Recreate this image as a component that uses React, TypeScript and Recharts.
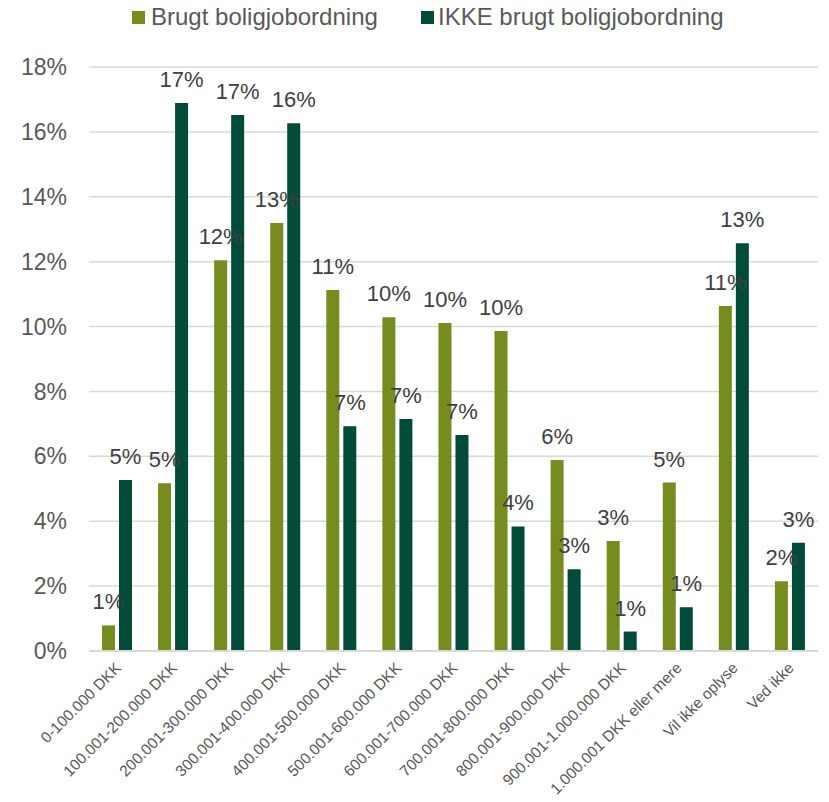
import React from 'react';
import { BarChart, Bar, XAxis, YAxis, CartesianGrid, LabelList, Legend } from 'recharts';

const categories = [
  '0-100.000 DKK',
  '100.001-200.000 DKK',
  '200.001-300.000 DKK',
  '300.001-400.000 DKK',
  '400.001-500.000 DKK',
  '500.001-600.000 DKK',
  '600.001-700.000 DKK',
  '700.001-800.000 DKK',
  '800.001-900.000 DKK',
  '900.001-1.000.000 DKK',
  '1.000.001 DKK eller mere',
  'Vil ikke oplyse',
  'Ved ikke',
];

const brugt = [0.79, 5.17, 12.04, 13.19, 11.13, 10.29, 10.11, 9.86, 5.89, 3.39, 5.19, 10.63, 2.15];
const ikkeBrugt = [5.27, 16.89, 16.52, 16.27, 6.93, 7.15, 6.66, 3.84, 2.52, 0.6, 1.35, 12.57, 3.34];

const yTicks = [0, 2, 4, 6, 8, 10, 12, 14, 16, 18];

const seriesNames = ['Brugt boligjobordning', 'IKKE brugt boligjobordning'];
const seriesColors = ['#778c1f', '#004b3a'];

const data = categories.map((c, i) => ({ name: c, brugt: brugt[i], ikke: ikkeBrugt[i] }));

const FONT = '"Liberation Sans", Arial, sans-serif';

const XTick = (props: any) => {
  const { x, y, payload } = props;
  const px = x + 5;
  const py = y + 18;
  return (
    <text
      x={px}
      y={py}
      transform={`rotate(-45, ${px}, ${py})`}
      textAnchor="end"
      fill="#595959"
      fontSize={15.5}
      fontFamily={FONT}
    >
      {payload.value}
    </text>
  );
};

const LegendContent = () => (
  <div style={{ position: 'relative', height: 67, width: 829, fontFamily: FONT }}>
    {seriesNames.map((n, i) => (
      <div
        key={n}
        style={{
          position: 'absolute',
          left: i === 0 ? 132 : 421,
          top: 3,
          display: 'flex',
          alignItems: 'center',
          fontSize: 24,
          color: '#595959',
          whiteSpace: 'nowrap',
        }}
      >
        <span style={{ display: 'inline-block', width: 13, height: 13, background: seriesColors[i], marginRight: i === 0 ? 6 : 4 }} />
        <span>{n}</span>
      </div>
    ))}
  </div>
);

const fmt = (v: any) => `${Math.round(Number(v))}%`;

export default function App() {
  return (
    <div style={{ position: 'absolute', left: 0, top: 0, width: 829, height: 802, background: '#fff' }}>
      <BarChart
        width={829}
        height={802}
        data={data}
        margin={{ top: 0, right: 11, bottom: 0, left: 0 }}
        barSize={13}
        barGap={4}
      >
        <Legend verticalAlign="top" align="left" content={<LegendContent />} wrapperStyle={{ left: 0, top: 0 }} />
        <CartesianGrid vertical={false} stroke="#d9d9d9" strokeWidth={1.5} />
        <XAxis
          dataKey="name"
          interval={0}
          tickLine={false}
          tickSize={0}
          tickMargin={0}
          height={151}
          axisLine={{ stroke: '#d9d9d9', strokeWidth: 2 }}
          tick={<XTick />}
        />
        <YAxis
          domain={[0, 18]}
          ticks={yTicks}
          width={89}
          axisLine={false}
          tickLine={false}
          tickSize={0}
          tickMargin={22}
          tickFormatter={(v: number) => `${v}%`}
          tick={{ fill: '#595959', fontSize: 23, fontFamily: FONT }}
        />
        <Bar dataKey="brugt" name={seriesNames[0]} fill={seriesColors[0]} isAnimationActive={false}>
          <LabelList dataKey="brugt" position="top" offset={16} formatter={fmt} fill="#404040" fontSize={22} fontFamily={FONT} />
        </Bar>
        <Bar dataKey="ikke" name={seriesNames[1]} fill={seriesColors[1]} isAnimationActive={false}>
          <LabelList dataKey="ikke" position="top" offset={16} formatter={fmt} fill="#404040" fontSize={22} fontFamily={FONT} />
        </Bar>
      </BarChart>
    </div>
  );
}
